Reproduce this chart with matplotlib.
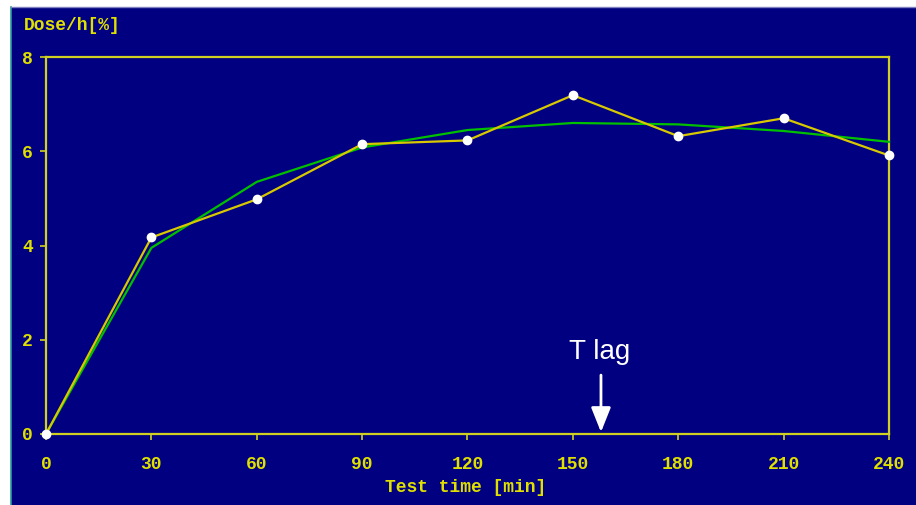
import matplotlib
matplotlib.use("Agg")
import matplotlib.pyplot as plt
from matplotlib.patches import Rectangle

# Data
test_time = [0, 30, 60, 90, 120, 150, 180, 210, 240]
dose_measured = [0.0, 4.17, 4.98, 6.15, 6.23, 7.19, 6.32, 6.70, 5.91]
dose_fitted = [0.0, 3.95, 5.35, 6.08, 6.45, 6.60, 6.57, 6.43, 6.20]
x_ticks = [0, 30, 60, 90, 120, 150, 180, 210, 240]
y_ticks = [0, 2, 4, 6, 8]
t_lag = 158

W, H = 916, 505
NAVY = "#000080"
YEL = "#e0e000"
FRAME = "#d0d020"
MONO = {"family": "Liberation Mono", "weight": "bold"}
FS = 13

fig = plt.figure(figsize=(W / 100, H / 100), dpi=100)
fig.patch.set_facecolor("white")
bg = Rectangle((11 / W, 0), 1 - 11 / W, 1 - 7 / H, transform=fig.transFigure,
               facecolor=NAVY, edgecolor="none", zorder=-10)
fig.add_artist(bg)
fig.add_artist(plt.Line2D([11 / W, 11 / W], [0, 1 - 7 / H], transform=fig.transFigure,
                          color="#2a9a9a", lw=1.2, zorder=-9))
fig.add_artist(plt.Line2D([11 / W, 1], [1 - 7 / H, 1 - 7 / H], transform=fig.transFigure,
                          color="#8080c0", lw=1.0, zorder=-9))

left, right, bottom, top = 46 / W, 889 / W, (H - 434) / H, (H - 57) / H
ax = fig.add_axes([left, bottom, right - left, top - bottom])
ax.set_zorder(5)
ax.set_facecolor(NAVY)
ax.set_xlim(0, 240)
ax.set_ylim(0, 8)
for s in ax.spines.values():
    s.set_color(FRAME)
    s.set_linewidth(1.6)

ax.set_xticks(x_ticks)
ax.set_yticks(y_ticks)
ax.tick_params(colors=FRAME, length=4, width=1.2, direction="out")
ax.tick_params(axis="x", pad=11.5)
ax.tick_params(axis="y", pad=5.5)
for lab in ax.get_xticklabels() + ax.get_yticklabels():
    lab.set_color(YEL)
    lab.set_fontfamily(MONO["family"])
    lab.set_fontweight(MONO["weight"])
    lab.set_fontsize(FS)

ax.plot(test_time, dose_fitted, color="#00c000", lw=1.6, zorder=3, clip_on=False)
ax.plot(test_time, dose_measured, color="#d8c800", lw=1.6, zorder=4, clip_on=False)
ax.plot(test_time, dose_measured, linestyle="none", marker="o", markersize=6,
        markerfacecolor="white", markeredgecolor="white", zorder=5, clip_on=False)

ax.annotate("", xy=(t_lag, 0.04), xytext=(t_lag, 1.25),
            arrowprops=dict(arrowstyle="-|>,head_length=1.5,head_width=0.6",
                            color="white", lw=2, shrinkA=0, shrinkB=0))
ax.text(t_lag - 0.5, 1.47, "T lag", color="white", fontsize=20, family="Liberation Sans",
        ha="center", va="bottom")

fig.text(24 / W, 1 - 25 / H, "Dose/h[%]", color=YEL, fontsize=FS, va="center", ha="left", **MONO)
fig.text(466 / W, 1 - 488 / H, "Test time [min]", color=YEL, fontsize=FS, va="center",
         ha="center", **MONO)

fig.savefig("out.png", dpi=100, facecolor=fig.get_facecolor())
